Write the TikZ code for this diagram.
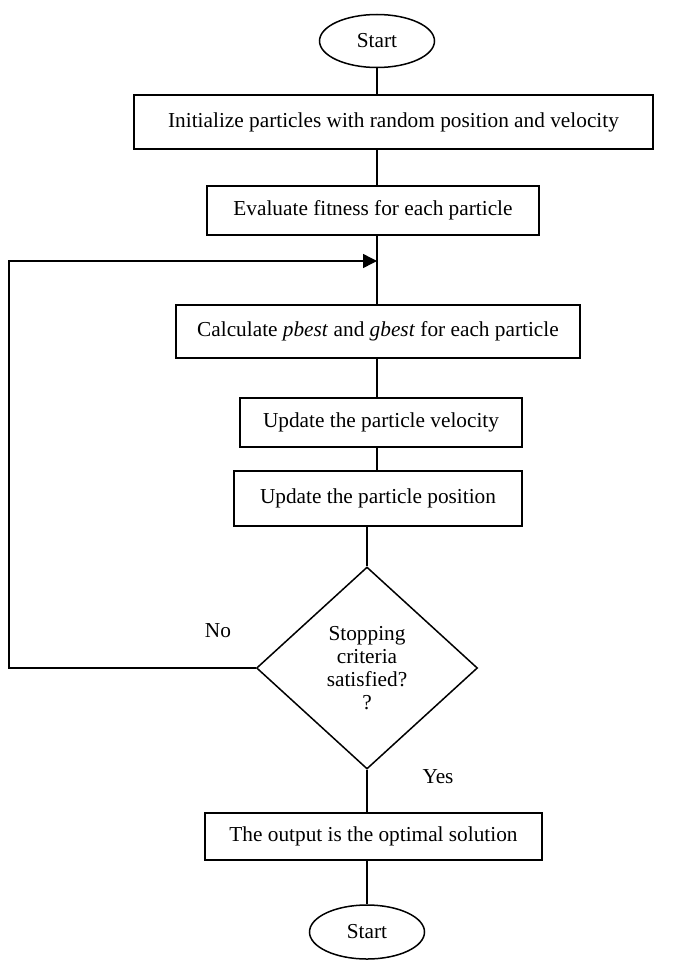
\documentclass[tikz,border=0pt]{standalone}
\usepackage{fontspec}
\setmainfont{Liberation Serif}
\usetikzlibrary{shapes.geometric,arrows.meta}

\begin{document}
\begin{tikzpicture}[x=1pt,y=-1pt,line width=1.5pt,
  every node/.style={font=\fontsize{21.3}{23}\selectfont},
  stepbox/.style={draw,rectangle,inner sep=0pt},
  terminal/.style={draw,ellipse,inner sep=0pt,minimum width=115pt},
  decision/.style={draw,diamond,align=center,inner sep=0pt}]
  \useasboundingbox (0,0) rectangle (677,966);
  \newcommand*{\UpperX}{377}
  \newcommand*{\LowerX}{367}
  \coordinate (up) at (\UpperX,0);
  \coordinate (low) at (\LowerX,0);
  \node[terminal, minimum height=53pt] (start) at (\UpperX,41) {Start};
  \node[stepbox, minimum width=519pt, minimum height=54pt] (init) at (393.5,122) {Initialize particles with random position and velocity};
  \node[stepbox, minimum width=332pt, minimum height=49pt] (eval) at (373,210.5) {Evaluate fitness for each particle};
  \node[stepbox, minimum width=404pt, minimum height=53pt] (calc) at (378,331.5) {Calculate \textit{pbest} and \textit{gbest} for each particle};
  \node[stepbox, minimum width=282pt, minimum height=49pt] (vel) at (381,422.5) {Update the particle velocity};
  \node[stepbox, minimum width=288pt, minimum height=55pt] (pos) at (378,498.5) {Update the particle position};
  \node[decision, minimum width=221pt, minimum height=202pt] (decide) at (\LowerX,668) {Stopping\\criteria\\satisfied?\\?};
  \node[stepbox, minimum width=337pt, minimum height=47pt] (out) at (373.5,836.5) {The output is the optimal solution};
  \node[terminal, minimum height=54pt] (stop) at (\LowerX,932) {Start};
  \node (no) at (218,631) {No};
  \node (yes) at (438,777) {Yes};
  \coordinate (back) at (9,261);
  \coordinate (join) at (\UpperX,261);
  \draw (start.south) -- (init.north -| start.south);
  \draw (init.south -| up) -- (eval.north -| up);
  \draw (eval.south -| up) -- (calc.north -| up);
  \draw (calc.south -| up) -- (vel.north -| up);
  \draw (vel.south -| up) -- (pos.north -| up);
  \draw (pos.south -| low) -- (decide.north);
  \draw (decide.south) -- (out.north -| low);
  \draw (out.south -| low) -- (stop.north);
  \draw[-{Triangle[length=14pt,width=14pt]}] (decide.west) -| (back) -- (join);
\end{tikzpicture}
\end{document}
